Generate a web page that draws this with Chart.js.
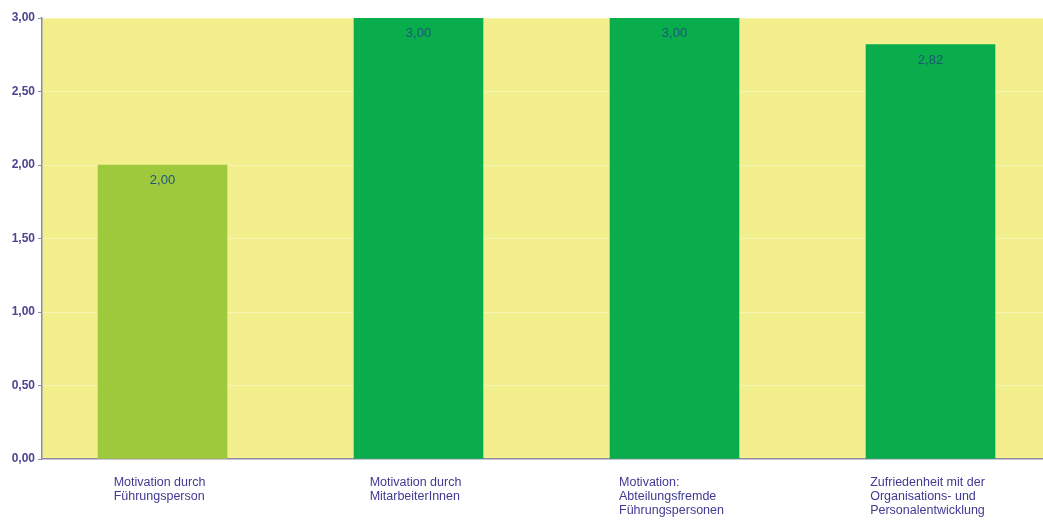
<!DOCTYPE html>
<html>
<head>
<meta charset="utf-8">
<script src="https://cdn.jsdelivr.net/npm/chart.js@4"></script>
<style>
  html, body { margin: 0; padding: 0; background: #fff; }
  #wrap { width: 1043px; height: 520px; }
</style>
</head>
<body>
<div id="wrap"><canvas id="chart"></canvas></div>
<script>
// Kategorien und Mittelwerte
const categories = [
  ['Motivation durch', 'Führungsperson'],
  ['Motivation durch', 'MitarbeiterInnen'],
  ['Motivation:', 'Abteilungsfremde', 'Führungspersonen'],
  ['Zufriedenheit mit der', 'Organisations- und', 'Personalentwicklung']
];
const values = [2.00, 3.00, 3.00, 2.82];
const barColors = ['#9ec93c', '#09ad4b', '#09ad4b', '#09ad4b'];
const yTicks = [0, 0.5, 1, 1.5, 2, 2.5, 3];

const fmt = v => v.toFixed(2).replace('.', ',');

// gelber Hintergrund der Zeichenfläche
const plotBackground = {
  id: 'plotBackground',
  beforeDraw(chart) {
    const { ctx, chartArea: a } = chart;
    ctx.save();
    ctx.fillStyle = '#f4ef8d';
    ctx.fillRect(a.left, a.top, a.right - a.left, a.bottom - a.top);
    ctx.restore();
  }
};

// Werte in die Balken, Kategorien linksbündig unter die Balken
const labelsPlugin = {
  id: 'labelsPlugin',
  afterDatasetsDraw(chart) {
    const { ctx, scales } = chart;
    const meta = chart.getDatasetMeta(0);
    ctx.save();
    ctx.textBaseline = 'top';
    meta.data.forEach((bar, i) => {
      ctx.font = '13px "Liberation Sans", Arial, sans-serif';
      ctx.fillStyle = '#22557a';
      ctx.textAlign = 'center';
      ctx.fillText(fmt(values[i]), bar.x, bar.y + 9);

      ctx.font = '12.5px "Liberation Sans", Arial, sans-serif';
      const lines = categories[i];
      const w = Math.max(...lines.map(l => ctx.measureText(l).width));
      const x0 = scales.x.getPixelForValue(i) - w / 2 - 3;
      ctx.fillStyle = '#3f3a92';
      ctx.textAlign = 'left';
      lines.forEach((l, j) => ctx.fillText(l, x0, scales.y.bottom + 17 + j * 14));
    });
    ctx.restore();
  }
};

new Chart(document.getElementById('chart'), {
  type: 'bar',
  data: {
    datasets: [{
      data: values.map((v, i) => ({ x: i, y: v })),
      backgroundColor: barColors,
      barThickness: 129,
      borderWidth: 0
    }]
  },
  options: {
    responsive: true,
    maintainAspectRatio: false,
    animation: false,
    layout: { padding: { top: 18, right: 0, left: 0, bottom: 0 } },
    plugins: { legend: { display: false }, tooltip: { enabled: false } },
    scales: {
      x: {
        type: 'linear',
        offset: false,
        min: -0.4707,
        max: 3.4395,
        ticks: { display: false },
        grid: { display: false, offset: false },
        border: { color: '#8f8aa8', width: 1.5 },
        afterFit(s) { s.height = 61; }
      },
      y: {
        min: 0,
        max: 3,
        afterBuildTicks(s) { s.ticks = yTicks.map(v => ({ value: v })); },
        ticks: {
          callback: v => fmt(v),
          color: '#4c4590',
          font: { family: '"Liberation Sans", Arial, sans-serif', size: 12, weight: 'bold' },
          padding: 3
        },
        grid: {
          color: 'rgba(255,255,255,0.35)',
          tickColor: '#8f8aa8',
          tickLength: 4,
          drawOnChartArea: true
        },
        border: { color: '#8f8aa8', width: 1.5 },
        afterFit(s) { s.width = 42; }
      }
    }
  },
  plugins: [plotBackground, labelsPlugin]
});
</script>
</body>
</html>
